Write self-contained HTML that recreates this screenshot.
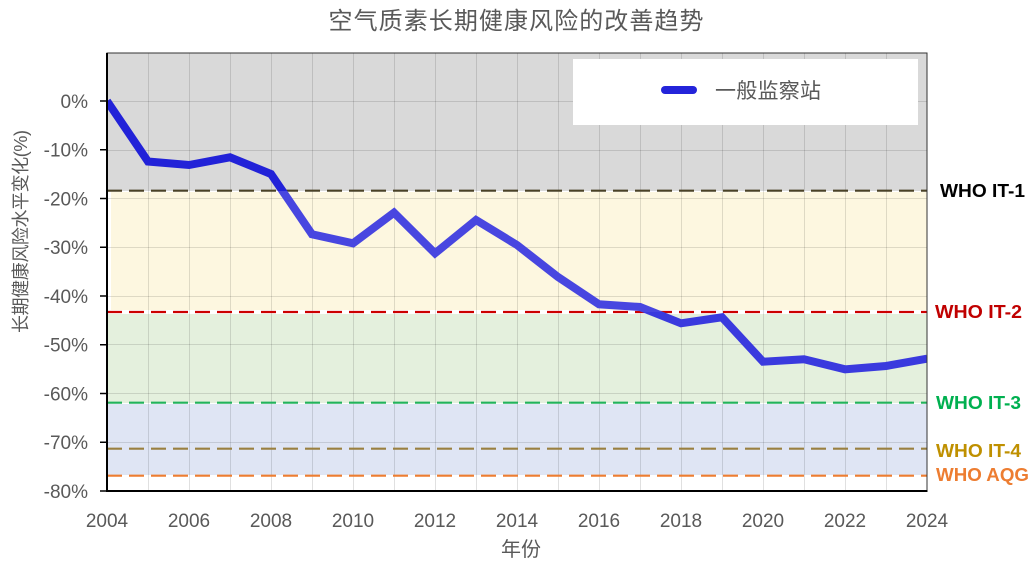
<!DOCTYPE html>
<html>
<head>
<meta charset="utf-8">
<style>
  html,body{margin:0;padding:0;background:#fff;}
  svg{display:block;}
  .tk{font-family:"Liberation Sans","Noto Sans CJK SC",sans-serif;font-size:19px;fill:#595959;}
  .cj{font-family:"Liberation Sans","Noto Sans CJK SC",sans-serif;fill:#595959;}
  .who{font-family:"Liberation Sans",sans-serif;font-size:18px;font-weight:bold;}
</style>
</head>
<body>
<svg width="1033" height="563" viewBox="0 0 1033 563" xmlns="http://www.w3.org/2000/svg">
  <defs>
    <clipPath id="plot"><rect x="107" y="53" width="820" height="438"/></clipPath>
    <clipPath id="cGray"><rect x="100" y="40" width="840" height="151"/></clipPath>
    <clipPath id="cYel"><rect x="100" y="191" width="840" height="121"/></clipPath>
    <clipPath id="cGrn"><rect x="100" y="312" width="840" height="200"/></clipPath>
  </defs>

  <!-- title -->
  <text x="516" y="29" text-anchor="middle" class="cj" font-size="24" textLength="375" lengthAdjust="spacing">空气质素长期健康风险的改善趋势</text>

  <!-- bands -->
  <rect x="107" y="53" width="820" height="138" fill="#d9d9d9"/>
  <rect x="111" y="192" width="816" height="118" fill="#fdf7e0"/>
  <rect x="107" y="314" width="820" height="89" fill="#e4f0dd"/>
  <rect x="107" y="404" width="820" height="71" fill="#dfe5f4"/>

  <!-- grid -->
  <g stroke="rgba(0,0,0,0.12)" stroke-width="1">
    <line x1="148.5" y1="53" x2="148.5" y2="491"/>
    <line x1="189.5" y1="53" x2="189.5" y2="491"/>
    <line x1="230.5" y1="53" x2="230.5" y2="491"/>
    <line x1="271.5" y1="53" x2="271.5" y2="491"/>
    <line x1="312.5" y1="53" x2="312.5" y2="491"/>
    <line x1="353.5" y1="53" x2="353.5" y2="491"/>
    <line x1="394.5" y1="53" x2="394.5" y2="491"/>
    <line x1="435.5" y1="53" x2="435.5" y2="491"/>
    <line x1="476.5" y1="53" x2="476.5" y2="491"/>
    <line x1="517.5" y1="53" x2="517.5" y2="491"/>
    <line x1="558.5" y1="53" x2="558.5" y2="491"/>
    <line x1="599.5" y1="53" x2="599.5" y2="491"/>
    <line x1="640.5" y1="53" x2="640.5" y2="491"/>
    <line x1="681.5" y1="53" x2="681.5" y2="491"/>
    <line x1="722.5" y1="53" x2="722.5" y2="491"/>
    <line x1="763.5" y1="53" x2="763.5" y2="491"/>
    <line x1="804.5" y1="53" x2="804.5" y2="491"/>
    <line x1="845.5" y1="53" x2="845.5" y2="491"/>
    <line x1="886.5" y1="53" x2="886.5" y2="491"/>
    <line x1="107" y1="101.5" x2="927" y2="101.5"/>
    <line x1="107" y1="150.5" x2="927" y2="150.5"/>
    <line x1="107" y1="198.5" x2="927" y2="198.5"/>
    <line x1="107" y1="247.5" x2="927" y2="247.5"/>
    <line x1="107" y1="296.5" x2="927" y2="296.5"/>
    <line x1="107" y1="344.5" x2="927" y2="344.5"/>
    <line x1="107" y1="393.5" x2="927" y2="393.5"/>
    <line x1="107" y1="442.5" x2="927" y2="442.5"/>
  </g>

  <!-- WHO dashed lines -->
  <g stroke-width="2.2" stroke-dasharray="15 7" fill="none">
    <line x1="107" y1="190.7" x2="927" y2="190.7" stroke="#4a4226"/>
    <line x1="107" y1="312" x2="927" y2="312" stroke="#cc0000"/>
    <line x1="107" y1="402.7" x2="927" y2="402.7" stroke="#22b35c"/>
    <line x1="107" y1="448.7" x2="927" y2="448.7" stroke="#9a8040"/>
    <line x1="107" y1="475.7" x2="927" y2="475.7" stroke="#ed7d31"/>
  </g>

  <!-- legend -->
  <rect x="573" y="59" width="345" height="66" fill="#ffffff"/>
  <line x1="665" y1="90" x2="693" y2="90" stroke="#2424da" stroke-width="8" stroke-linecap="round"/>
  <text x="715" y="98" class="cj" font-size="21" textLength="106" lengthAdjust="spacing">一般监察站</text>

  <!-- series -->
  <g clip-path="url(#plot)">
    <g clip-path="url(#cGray)">
      <polyline fill="none" stroke="#2222d8" stroke-width="8" stroke-linejoin="miter"
        points="107,101 148,161.5 189,165 230,157.3 271,174 312,234.3 353,243.3 394,212.7 435,253.3 476,220 517,245 558,277 599,304.3 640,307 681,323.3 722,317.3 763,361.7 804,359.3 845,369.3 886,366 927,358.7"/>
    </g>
    <g clip-path="url(#cYel)">
      <polyline fill="none" stroke="#4846e0" stroke-width="8" stroke-linejoin="miter"
        points="107,101 148,161.5 189,165 230,157.3 271,174 312,234.3 353,243.3 394,212.7 435,253.3 476,220 517,245 558,277 599,304.3 640,307 681,323.3 722,317.3 763,361.7 804,359.3 845,369.3 886,366 927,358.7"/>
    </g>
    <g clip-path="url(#cGrn)">
      <polyline fill="none" stroke="#3a3ade" stroke-width="8" stroke-linejoin="miter"
        points="107,101 148,161.5 189,165 230,157.3 271,174 312,234.3 353,243.3 394,212.7 435,253.3 476,220 517,245 558,277 599,304.3 640,307 681,323.3 722,317.3 763,361.7 804,359.3 845,369.3 886,366 927,358.7"/>
    </g>
  </g>

  <!-- plot border / axes -->
  <rect x="107" y="53" width="820" height="438" fill="none" stroke="#333" stroke-width="1"/>
  <line x1="107" y1="53" x2="107" y2="491.5" stroke="#000" stroke-width="2"/>
  <line x1="106" y1="491" x2="927.5" y2="491" stroke="#000" stroke-width="2"/>

  <!-- y ticks -->
  <g stroke="#000" stroke-width="1.5">
    <line x1="100" y1="101" x2="107" y2="101"/>
    <line x1="100" y1="149.75" x2="107" y2="149.75"/>
    <line x1="100" y1="198.5" x2="107" y2="198.5"/>
    <line x1="100" y1="247.25" x2="107" y2="247.25"/>
    <line x1="100" y1="296" x2="107" y2="296"/>
    <line x1="100" y1="344.75" x2="107" y2="344.75"/>
    <line x1="100" y1="393.5" x2="107" y2="393.5"/>
    <line x1="100" y1="442.25" x2="107" y2="442.25"/>
    <line x1="100" y1="491" x2="107" y2="491"/>
  </g>

  <!-- y labels -->
  <g class="tk" text-anchor="end">
    <text x="88" y="107.8">0%</text>
    <text x="88" y="156.5">-10%</text>
    <text x="88" y="205.3">-20%</text>
    <text x="88" y="254">-30%</text>
    <text x="88" y="302.8">-40%</text>
    <text x="88" y="351.5">-50%</text>
    <text x="88" y="400.3">-60%</text>
    <text x="88" y="449">-70%</text>
    <text x="88" y="497.8">-80%</text>
  </g>

  <!-- x labels -->
  <g class="tk" text-anchor="middle">
    <text x="107" y="527">2004</text>
    <text x="189" y="527">2006</text>
    <text x="271" y="527">2008</text>
    <text x="353" y="527">2010</text>
    <text x="435" y="527">2012</text>
    <text x="517" y="527">2014</text>
    <text x="599" y="527">2016</text>
    <text x="681" y="527">2018</text>
    <text x="763" y="527">2020</text>
    <text x="845" y="527">2022</text>
    <text x="927" y="527">2024</text>
  </g>

  <!-- axis titles -->
  <text x="501" y="556" class="cj" font-size="20">年份</text>
  <text transform="translate(27,231.5) rotate(-90)" text-anchor="middle" class="cj" font-size="18" textLength="203" lengthAdjust="spacing">长期健康风险水平变化(%)</text>

  <!-- WHO labels -->
  <text x="940" y="197" class="who" fill="#000000" textLength="85" lengthAdjust="spacingAndGlyphs">WHO IT-1</text>
  <text x="935" y="318" class="who" fill="#c00000" textLength="87" lengthAdjust="spacingAndGlyphs">WHO IT-2</text>
  <text x="936" y="409" class="who" fill="#00b050" textLength="85" lengthAdjust="spacingAndGlyphs">WHO IT-3</text>
  <text x="936" y="457" class="who" fill="#bf9000" textLength="85" lengthAdjust="spacingAndGlyphs">WHO IT-4</text>
  <text x="936" y="481" class="who" fill="#ed7d31" textLength="93" lengthAdjust="spacingAndGlyphs">WHO AQG</text>
</svg>
</body>
</html>
